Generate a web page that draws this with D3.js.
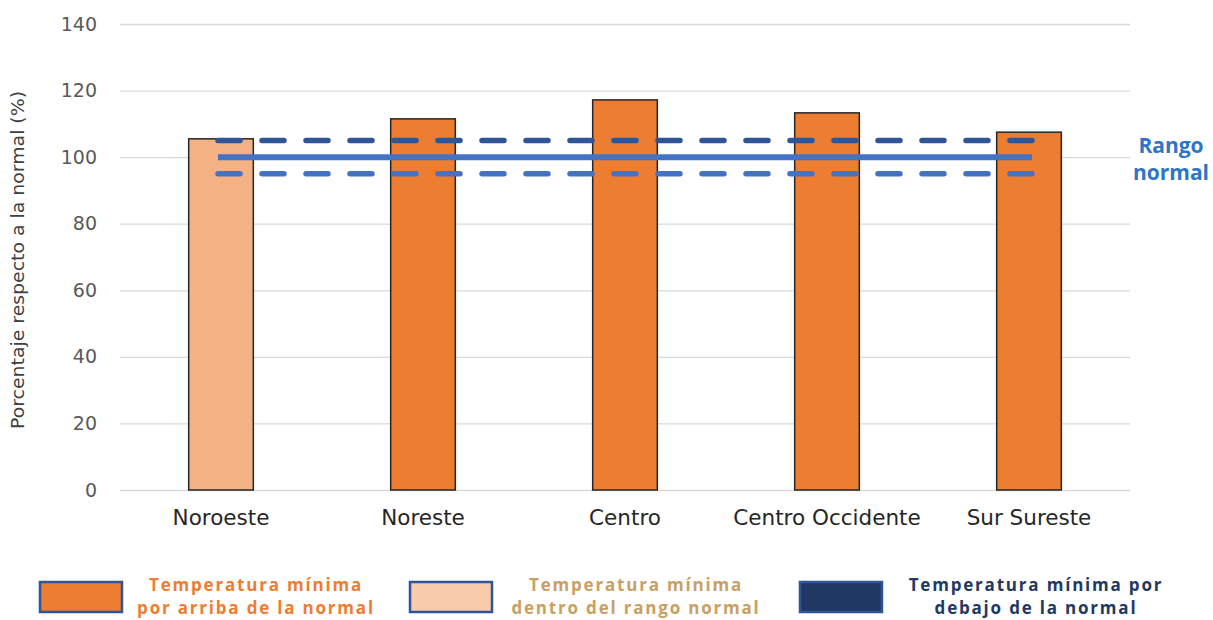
<!DOCTYPE html>
<html>
<head>
<meta charset="utf-8">
<script src="https://cdn.jsdelivr.net/npm/d3@7"></script>
<style>
    body { margin: 0; background: #fff; }
    svg { display: block; }
</style>
</head>
<body>
<div id="chart"></div>
<script>

// Data

const regions = ["Noroeste", "Noreste", "Centro", "Centro Occidente", "Sur Sureste"];
const values = [105.5, 111.5, 117.2, 113.3, 107.5];
const status = ["dentro", "arriba", "arriba", "arriba", "arriba"];
const yTicks = [0, 20, 40, 60, 80, 100, 120, 140];
const normalLine = 100;
const upperLine = 105;
const lowerLine = 95;

const legendItems = ["arriba", "dentro", "debajo"];
const legendLabels = [
    ["Temperatura mínima", "por arriba de la normal"],
    ["Temperatura mínima", "dentro del rango normal"],
    ["Temperatura mínima por", "debajo de la normal"],
];

// Configure

const dimensions = { width: 1213, height: 620 };
const margin = { top: 24, bottom: 130, left: 120, right: 83 };

const design = {
    fill: { arriba: "#ED7D31", dentro: "#F4B183", debajo: "#1F3864" },
    legendFill: { arriba: "#ED7D31", dentro: "#F8CBAD", debajo: "#1F3864" },
    legendText: { arriba: "#ED7D31", dentro: "#C8A064", debajo: "#1F3864" },
    grid: "#D9D9D9",
    dark: "#2F5597",
    blue: "#4472C4",
    font: "'DejaVu Sans', sans-serif",
    legendFont: "'Open Sans', sans-serif",
};

const svg = d3.select("#chart").append("svg")
    .attr("width", dimensions.width)
    .attr("height", dimensions.height);

// Scales

const xScale = d3.scaleBand()
    .domain(regions)
    .range([margin.left, dimensions.width - margin.right])
    .paddingInner(0.68)
    .paddingOuter(0.34);

const yScale = d3.scaleLinear()
    .domain([0, 140])
    .range([dimensions.height - margin.bottom, margin.top]);

// Grid + y-axis

const yAxis = d3.axisLeft(yScale)
    .tickValues(yTicks)
    .tickSize(-(dimensions.width - margin.left - margin.right))
    .tickPadding(23);

const yAxisG = svg.append("g")
    .attr("transform", "translate(" + margin.left + ",0)")
    .call(yAxis);

yAxisG.select(".domain").remove();
yAxisG.selectAll(".tick line")
    .attr("stroke", design.grid)
    .attr("stroke-width", 1.3);
yAxisG.selectAll(".tick text")
    .attr("fill", "#595959")
    .attr("font-family", design.font)
    .attr("font-size", 19);

// Bars

svg.append("g").selectAll("rect")
    .data(regions)
    .enter()
    .append("rect")
    .attr("x", d => xScale(d))
    .attr("y", (d, i) => yScale(values[i]))
    .attr("width", xScale.bandwidth())
    .attr("height", (d, i) => yScale(0) - yScale(values[i]))
    .attr("fill", (d, i) => design.fill[status[i]])
    .attr("stroke", "#262626")
    .attr("stroke-width", 1.5);

// Normal range lines

const first = xScale(regions[0]) + xScale.bandwidth() / 2 - 3;
const last = xScale(regions[regions.length - 1]) + xScale.bandwidth() / 2 + 3;

const rangeLines = [
    { value: upperLine, color: design.dark, dash: "22 22" },
    { value: lowerLine, color: design.blue, dash: "22 22" },
    { value: normalLine, color: design.blue, dash: null },
];

svg.append("g").selectAll("line")
    .data(rangeLines)
    .enter()
    .append("line")
    .attr("x1", first)
    .attr("x2", last)
    .attr("y1", d => yScale(d.value))
    .attr("y2", d => yScale(d.value))
    .attr("stroke", d => d.color)
    .attr("stroke-width", d => d.dash ? 5.5 : 6)
    .attr("stroke-linecap", d => d.dash ? "round" : "butt")
    .attr("stroke-dasharray", d => d.dash);

svg.append("text")
    .attr("text-anchor", "middle")
    .attr("fill", "#2E75C6")
    .attr("font-family", design.legendFont)
    .attr("font-weight", "bold")
    .attr("font-size", 21)
    .selectAll("tspan")
    .data(["Rango", "normal"])
    .enter()
    .append("tspan")
    .attr("x", 1171)
    .attr("y", (d, i) => yScale(normalLine) - 4 + i * 27)
    .text(d => d);

// X-axis labels

const xAxis = d3.axisBottom(xScale).tickSize(0).tickPadding(20);

const xAxisG = svg.append("g")
    .attr("transform", "translate(0," + yScale(0) + ")")
    .call(xAxis);

xAxisG.select(".domain").remove();
xAxisG.selectAll(".tick text")
    .attr("fill", "#262626")
    .attr("font-family", design.font)
    .attr("font-size", 21.5);

// Y-axis title

svg.append("text")
    .attr("transform", "translate(24," + (yScale(70) + 3) + ") rotate(-90)")
    .attr("text-anchor", "middle")
    .attr("fill", "#404040")
    .attr("font-family", design.font)
    .attr("font-size", 17.5)
    .attr("textLength", 338)
    .attr("lengthAdjust", "spacingAndGlyphs")
    .text("Porcentaje respecto a la normal (%)");

// Legend

const legendX = [40, 410, 800];
const legendTextX = [256, 636, 1036];

const legend = svg.append("g").selectAll("g")
    .data(legendItems)
    .enter()
    .append("g");

legend.append("rect")
    .attr("x", (d, i) => legendX[i])
    .attr("y", 582)
    .attr("width", 82)
    .attr("height", 30)
    .attr("fill", d => design.legendFill[d])
    .attr("stroke", design.dark)
    .attr("stroke-width", 2.5);

legend.append("text")
    .attr("text-anchor", "middle")
    .attr("fill", d => design.legendText[d])
    .attr("font-family", design.legendFont)
    .attr("font-weight", "bold")
    .attr("font-size", 17)
    .attr("letter-spacing", 1.8)
    .selectAll("tspan")
    .data((d, i) => legendLabels[i].map(t => ({ t, i })))
    .enter()
    .append("tspan")
    .attr("x", d => legendTextX[d.i])
    .attr("y", (d, j) => 591 + j * 23)
    .text(d => d.t);

</script>
</body>
</html>
